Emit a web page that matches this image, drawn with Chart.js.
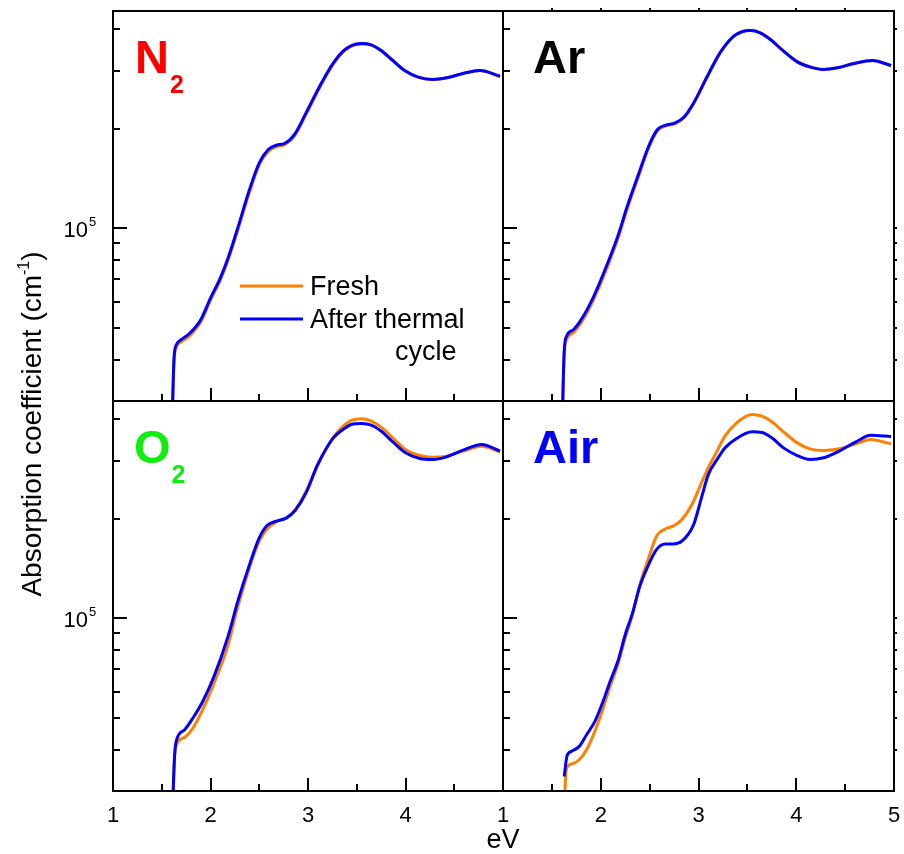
<!DOCTYPE html>
<html>
<head>
<meta charset="utf-8">
<script src="https://cdn.jsdelivr.net/npm/chart.js@4.4.0/dist/chart.umd.min.js"></script>
<style>
  body { margin: 0; background: #fff; }
  #wrap { position: relative; width: 904px; height: 854px; }
  canvas { position: absolute; left: 0; top: 0; }
</style>
</head>
<body>
<div id="wrap">
  <canvas id="n2" width="904" height="854"></canvas>
  <canvas id="ar" width="904" height="854"></canvas>
  <canvas id="o2" width="904" height="854"></canvas>
  <canvas id="air" width="904" height="854"></canvas>
</div>
<script>
// photon energy (eV) and absorption coefficient (cm-1)
const n2X      = [1.605, 1.626, 1.65, 1.70, 1.79, 1.90, 2.00, 2.10, 2.18, 2.29, 2.40, 2.50, 2.59, 2.675, 2.76, 2.86, 2.98, 3.12, 3.26, 3.36, 3.445, 3.55, 3.65, 3.75, 3.87, 4.00, 4.13, 4.275, 4.42, 4.59, 4.76, 4.97];
const n2Fresh  = [25000, 39500, 43600, 45300, 47400, 52000, 60500, 69600, 80000, 100800, 128800, 155500, 170500, 176500, 179000, 190000, 221000, 266500, 314500, 341500, 356000, 361500, 358800, 344800, 321800, 299000, 286700, 282000, 285300, 294100, 300300, 288600];
const n2Cycled = [25000, 40450, 44400, 46000, 48200, 52900, 61500, 70700, 81300, 102600, 131000, 157800, 173000, 178500, 180600, 192100, 223600, 269300, 317000, 343800, 357700, 362700, 359400, 345300, 322200, 299300, 286900, 282200, 285500, 294300, 300500, 288800];

const arX      = [1.605, 1.626, 1.65, 1.72, 1.80, 1.92, 2.03, 2.18, 2.265, 2.385, 2.49, 2.58, 2.66, 2.76, 2.85, 2.95, 3.09, 3.22, 3.36, 3.445, 3.53, 3.63, 3.735, 3.87, 4.01, 4.146, 4.28, 4.42, 4.59, 4.78, 4.97];
const arFresh  = [25000, 41300, 46000, 48300, 51800, 60200, 71600, 93800, 113000, 143000, 175000, 197500, 203800, 207200, 215800, 238500, 287800, 339000, 381000, 393800, 397800, 391500, 373800, 344300, 319600, 307800, 302800, 306400, 315700, 322400, 311300];
const arCycled = [25000, 42400, 47100, 49300, 52900, 61500, 73200, 95700, 115200, 145400, 177200, 199100, 205100, 208500, 216900, 239700, 288800, 339800, 381700, 393600, 397200, 390800, 373100, 343800, 319200, 307600, 302600, 306200, 315500, 322200, 311100];

const o2X      = [1.608, 1.632, 1.656, 1.735, 1.82, 1.92, 2.03, 2.18, 2.28, 2.40, 2.50, 2.58, 2.675, 2.78, 2.87, 2.98, 3.10, 3.26, 3.36, 3.445, 3.55, 3.65, 3.75, 3.87, 4.00, 4.146, 4.28, 4.42, 4.59, 4.78, 4.97];
const o2Fresh  = [25000, 38000, 41800, 43600, 46550, 52900, 62950, 83200, 108500, 142100, 171200, 186500, 195900, 201400, 213500, 242500, 292200, 353600, 381700, 397200, 401800, 395400, 379300, 352000, 324400, 311100, 307600, 309700, 320800, 331900, 319200];
const o2Cycled = [25000, 38600, 43200, 46000, 49900, 56000, 66000, 88200, 112600, 145400, 175200, 190900, 196800, 201400, 212500, 239700, 292200, 352000, 373100, 386200, 389000, 384500, 368800, 342000, 317000, 304700, 302600, 308300, 323000, 335900, 320800];

const airFreshX  = [1.62, 1.65, 1.70, 1.78, 1.855, 1.94, 2.03, 2.09, 2.18, 2.25, 2.32, 2.40, 2.49, 2.57, 2.66, 2.74, 2.83, 2.95, 3.03, 3.10, 3.19, 3.27, 3.39, 3.55, 3.65, 3.75, 3.87, 4.01, 4.14, 4.28, 4.44, 4.61, 4.76, 4.97];
const airFresh   = [25000, 35200, 36200, 37300, 40000, 45500, 54100, 61500, 73200, 87200, 101400, 126500, 152300, 177200, 186500, 190100, 199100, 226200, 257100, 285500, 320800, 356000, 390800, 414100, 409300, 393600, 366900, 339800, 326000, 322200, 326000, 337400, 347700, 337400];
const airCycledX = [1.626, 1.656, 1.70, 1.78, 1.855, 1.94, 2.03, 2.09, 2.18, 2.25, 2.32, 2.40, 2.49, 2.57, 2.66, 2.74, 2.83, 2.95, 3.03, 3.10, 3.19, 3.27, 3.39, 3.55, 3.65, 3.75, 3.87, 4.01, 4.14, 4.28, 4.44, 4.61, 4.76, 4.97];
const airCycled  = [33200, 38400, 39550, 40950, 44400, 48750, 56650, 63700, 74950, 89200, 102600, 125000, 145400, 161500, 167900, 167900, 171200, 192100, 231500, 272300, 302600, 328100, 350400, 366900, 365200, 352000, 328100, 311100, 302600, 306200, 320800, 342000, 358500, 355200];

const xLabelsLeft  = [1, 2, 3, 4];
const xLabelsRight = [1, 2, 3, 4, 5];
const yTickValues  = [4e4, 5e4, 6e4, 7e4, 8e4, 9e4, 1e5, 2e5, 3e5, 4e5];

const FONT = "'Liberation Sans', Arial, sans-serif";
const W = 904, H = 854;

// frame, inward ticks, panel labels and legend
const panelPlugin = {
  id: 'panel',
  afterDatasetsDraw(chart, args, o) {
    const ctx = chart.ctx, a = chart.chartArea;
    const x = chart.scales.x, y = chart.scales.y;
    ctx.save();
    ctx.strokeStyle = '#000';
    ctx.lineWidth = 2;
    ctx.strokeRect(a.left, a.top, a.right - a.left, a.bottom - a.top);

    ctx.beginPath();
    for (let i = 3; i <= 9; i++) {
      const px = Math.round(x.getPixelForValue(i / 2));
      const len = i % 2 === 0 ? 13 : 7;
      ctx.moveTo(px, a.bottom);
      ctx.lineTo(px, a.bottom - len);
      if (o.top) { ctx.moveTo(px, a.top); ctx.lineTo(px, a.top - 3); }
    }
    yTickValues.forEach(v => {
      const py = Math.round(y.getPixelForValue(v));
      ctx.moveTo(a.left, py);
      ctx.lineTo(a.left + (v === 1e5 ? 14 : 7), py);
      if (o.right) { ctx.moveTo(a.right, py); ctx.lineTo(a.right + 3, py); }
    });
    ctx.stroke();

    ctx.fillStyle = '#000';
    if (o.left) {
      const py = y.getPixelForValue(1e5);
      ctx.font = '22px ' + FONT;
      ctx.textAlign = 'right';
      ctx.textBaseline = 'alphabetic';
      ctx.fillText('10', a.left - 25, py + 9);
      ctx.font = '13px ' + FONT;
      ctx.textAlign = 'left';
      ctx.fillText('5', a.left - 24, py - 2);
    }

    // panel name
    ctx.fillStyle = o.color;
    ctx.textAlign = 'left';
    ctx.font = 'bold 47px ' + FONT;
    const tx = a.left + o.dx, ty = a.top + 62;
    ctx.fillText(o.name, tx, ty);
    if (o.sub) {
      const w = ctx.measureText(o.name).width;
      ctx.font = 'bold 25px ' + FONT;
      ctx.fillText(o.sub, tx + w + 1, ty + 20);
    }

    if (o.legend) {
      ctx.lineWidth = 3;
      ctx.strokeStyle = '#ff8000';
      ctx.beginPath(); ctx.moveTo(240, 286); ctx.lineTo(303, 286); ctx.stroke();
      ctx.strokeStyle = '#0000ff';
      ctx.beginPath(); ctx.moveTo(240, 319); ctx.lineTo(303, 319); ctx.stroke();
      ctx.fillStyle = '#000';
      ctx.font = '27px ' + FONT;
      ctx.fillText('Fresh', 310, 295);
      ctx.fillText('After thermal', 310, 328);
      ctx.fillText('cycle', 395, 360);
    }

    if (o.titles) {
      ctx.fillStyle = '#000';
      ctx.font = '27px ' + FONT;
      ctx.textAlign = 'center';
      ctx.fillText('eV', 503, 848);

      // rotated y title with superscript
      ctx.save();
      ctx.translate(41, 424);
      ctx.rotate(-Math.PI / 2);
      ctx.textAlign = 'left';
      const big = '28px ' + FONT, small = '16px ' + FONT;
      const p1 = 'Absorption coefficient (cm', p2 = '-1', p3 = ')';
      ctx.font = big;
      const w1 = ctx.measureText(p1).width, w3 = ctx.measureText(p3).width;
      ctx.font = small;
      const w2 = ctx.measureText(p2).width;
      let sx = -(w1 + w2 + w3) / 2;
      ctx.font = big; ctx.fillText(p1, sx, 0); sx += w1;
      ctx.font = small; ctx.fillText(p2, sx, -12); sx += w2;
      ctx.font = big; ctx.fillText(p3, sx, 0);
      ctx.restore();
    }
    ctx.restore();
  }
};

function pts(xs, ys) {
  return xs.map((v, i) => ({ x: v, y: ys[i] }));
}

function makePanel(id, box, freshXs, fresh, cycledXs, cycled, info) {
  const bottomAxis = box.b > 500;
  const labels = box.l < 200 ? xLabelsLeft : xLabelsRight;
  new Chart(document.getElementById(id), {
    type: 'line',
    data: {
      datasets: [
        { label: 'After thermal cycle', data: pts(cycledXs, cycled), borderColor: '#0000ff',
          borderWidth: 3, pointRadius: 0, cubicInterpolationMode: 'monotone' },
        { label: 'Fresh', data: pts(freshXs, fresh), borderColor: '#ff8000',
          borderWidth: 3, pointRadius: 0, cubicInterpolationMode: 'monotone' }
      ]
    },
    options: {
      responsive: false,
      animation: false,
      events: [],
      layout: { padding: { left: box.l, top: box.t, right: W - box.r, bottom: bottomAxis ? 0 : H - box.b } },
      plugins: { legend: { display: false }, tooltip: { enabled: false }, panel: info },
      scales: {
        x: {
          type: 'linear', min: 1, max: 5, display: bottomAxis,
          grid: { display: false, drawTicks: false },
          border: { display: false },
          afterBuildTicks: s => { s.ticks = labels.map(v => ({ value: v })); },
          afterFit: s => {
            if (!bottomAxis) return;
            s.height = H - box.b;
            s.paddingLeft = 0;
            s.paddingRight = 0;
          },
          ticks: { color: '#000', font: { family: FONT, size: 22 }, padding: 12,
                   maxRotation: 0, autoSkip: false, callback: v => String(v) }
        },
        y: { type: 'logarithmic', min: 3e4, max: 4.55e5, display: false }
      }
    },
    plugins: [panelPlugin]
  });
}

makePanel('n2',  { l: 113, t: 11,  r: 503, b: 401 }, n2X, n2Fresh, n2X, n2Cycled,
  { name: 'N', sub: '2', color: '#ff0000', dx: 22, left: true, legend: true });
makePanel('ar',  { l: 503, t: 11,  r: 894, b: 401 }, arX, arFresh, arX, arCycled,
  { name: 'Ar', sub: '', color: '#000000', dx: 30, right: true, top: true });
makePanel('o2',  { l: 113, t: 401, r: 503, b: 791 }, o2X, o2Fresh, o2X, o2Cycled,
  { name: 'O', sub: '2', color: '#10ee10', dx: 21, left: true, titles: true });
makePanel('air', { l: 503, t: 401, r: 894, b: 791 }, airFreshX, airFresh, airCycledX, airCycled,
  { name: 'Air', sub: '', color: '#0000ff', dx: 30, right: true });
</script>
</body>
</html>
